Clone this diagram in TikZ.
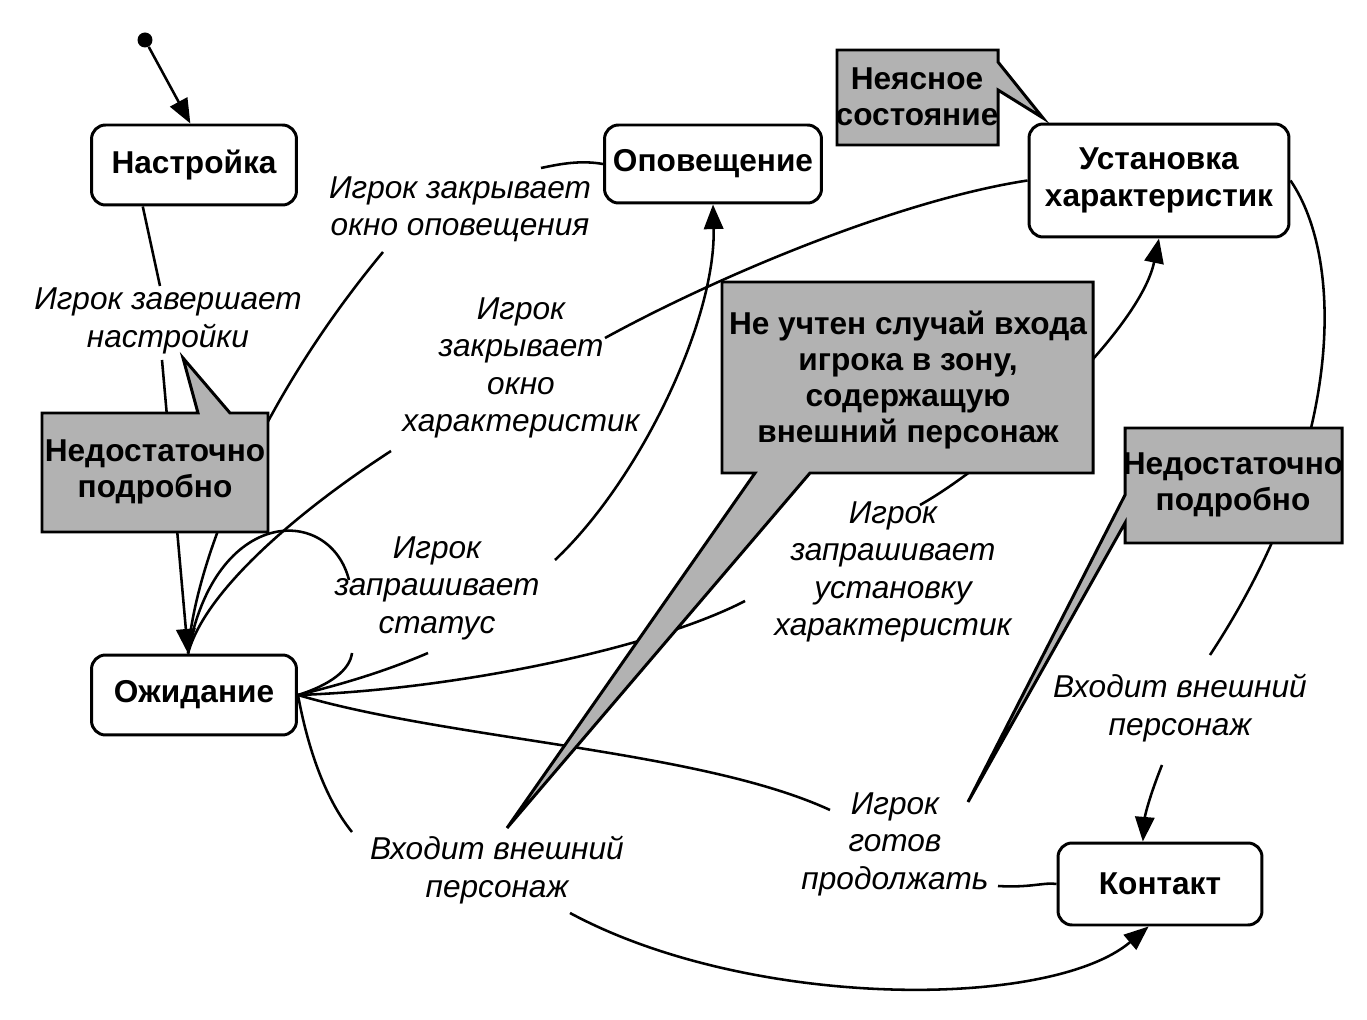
\documentclass[tikz,border=0pt]{standalone}
\usepackage{fontspec}
\setmainfont{Liberation Sans}
\usetikzlibrary{arrows.meta}

\begin{document}
\begin{tikzpicture}[x=0.02cm, y=-0.02cm,
  state/.style = {shape=rectangle, rounded corners=8pt, draw, line width=1.7pt,
    align=center, font=\fontsize{18}{21}\selectfont\bfseries, inner sep=2pt},
  lbl/.style = {align=center, font=\fontsize{18}{21.3}\selectfont\itshape, inner sep=1pt},
  notebox/.style = {draw, line width=1.7pt, fill=black!30, line join=miter},
  notetxt/.style = {align=center, font=\fontsize{18}{20.5}\selectfont\bfseries, inner sep=0pt},
  trans/.style = {line width=1.45pt},
  go/.style = {trans, -{Triangle[length=14pt, width=11pt]}}]
  \useasboundingbox (0,0) rectangle (1367,1020);

  \node[circle, fill, inner sep=0pt, minimum size=0.3cm] (start) at (145,40) {};
  \node[state, minimum width=4.1cm, minimum height=1.6cm] (nastr) at (194,165) {Настройка};
  \node[state, minimum width=4.34cm, minimum height=1.56cm] (opov) at (713,164) {Оповещение};
  \node[state, minimum width=5.2cm, minimum height=2.26cm] (ustan) at (1159,180.5) {Установка\\характеристик};
  \node[state, minimum width=4.1cm, minimum height=1.6cm] (ozh) at (194,695) {Ожидание};
  \node[state, minimum width=4.08cm, minimum height=1.64cm] (kont) at (1160,884) {Контакт};

  \node[lbl] (lDone) at (168,321) {Игрок завершает\\настройки};
  \node[lbl] (lCloseOp) at (460,209) {Игрок закрывает\\окно оповещения};
  \node[lbl] (lCloseChar) at (521,368) {Игрок\\закрывает\\окно\\характеристик};
  \node[lbl] (lStatus) at (437,588) {Игрок\\запрашивает\\статус};
  \node[lbl] (lAskChar) at (893,572) {Игрок\\запрашивает\\установку\\характеристик};
  \node[lbl] (lEnterR) at (1180,708) {Входит внешний\\персонаж};
  \node[lbl] (lReady) at (895,844) {Игрок\\готов\\продолжать};
  \node[lbl] (lEnterB) at (497,870) {Входит внешний\\персонаж};

  \coordinate (ozhIn) at ([xshift=-3.4pt]ozh.north);
  \coordinate (p1) at (160,286);  \coordinate (p2) at (162,360);
  \coordinate (q1) at (541,168);  \coordinate (q2) at (383,252);
  \coordinate (r1) at (605,338);  \coordinate (r2) at (391,451);
  \coordinate (s1) at (352,653);  \coordinate (s2) at (349,580);
  \coordinate (t1) at (428,653);  \coordinate (t2) at (555,560);
  \coordinate (u1) at (745,601);  \coordinate (u2) at (920,505);
  \coordinate (v1) at (830,810);  \coordinate (v2) at (998,886);
  \coordinate (w1) at (352,832);  \coordinate (w2) at (570,913);
  \coordinate (x1) at (1210,655); \coordinate (x2) at (1162,765);

  \draw[go] (start) -- (nastr.95);
  \draw[trans] (nastr.219) -- (p1);
  \draw[go] (p2) -- (ozhIn);
  \draw[trans] (opov.west) .. controls (580,160) and (560,164) .. (q1);
  \draw[trans] (q2) .. controls (260,400) and (195,560) .. (ozhIn);
  \draw[trans] (ustan.west) .. controls (900,200) and (720,275) .. (r1);
  \draw[trans] (r2) .. controls (300,510) and (205,590) .. (ozhIn);
  \draw[trans] (ozh.east) .. controls (330,685) and (350,670) .. (s1);
  \draw[trans] (s2) .. controls (330,505) and (215,505) .. (ozhIn);
  \draw[trans] (ozh.east) .. controls (360,680) and (400,665) .. (t1);
  \draw[go] (t2) .. controls (640,480) and (716,320) .. (opov.south);
  \draw[trans] (ozh.east) .. controls (450,690) and (650,650) .. (u1);
  \draw[go] (u2) .. controls (1000,460) and (1140,330) .. (ustan.south);
  \draw[trans] (ozh.east) .. controls (450,740) and (700,750) .. (v1);
  \draw[trans] (v2) .. controls (1030,888) and (1045,882) .. (kont.west);
  \draw[trans] (ozh.east) .. controls (310,760) and (330,805) .. (w1);
  \draw[go] (w2) .. controls (750,1010) and (1050,1010) .. (kont.255);
  \draw[trans] (ustan.east) .. controls (1345,260) and (1345,450) .. (x1);
  \draw[go] (x2) .. controls (1150,795) and (1145,815) .. (kont.112);

  \draw[notebox] (837,50) -- (998,50) -- (998,62) -- (1043,118) -- (998,90)
    -- (998,145) -- (837,145) -- cycle;
  \draw[notebox] (42,413) -- (198,413) -- (183,358) -- (230,413) -- (268,413)
    -- (268,532) -- (42,532) -- cycle;
  \draw[notebox] (722,282) -- (1093,282) -- (1093,473) -- (810,473) -- (507,828)
    -- (755,473) -- (722,473) -- cycle;
  \draw[notebox] (1125,428) -- (1342,428) -- (1342,543) -- (1125,543) -- (1125,523)
    -- (968,802) -- (1125,495) -- cycle;

  \node[notetxt] (nUnclear) at (917,97) {Неясное\\состояние};
  \node[notetxt] (nLeft) at (155,472) {Недостаточно\\подробно};
  \node[notetxt] (nBig) at (908,380) {Не учтен случай входа\\игрока в зону,\\содержащую\\внешний персонаж};
  \node[notetxt] (nRight) at (1233,485) {Недостаточно\\подробно};
\end{tikzpicture}
\end{document}
